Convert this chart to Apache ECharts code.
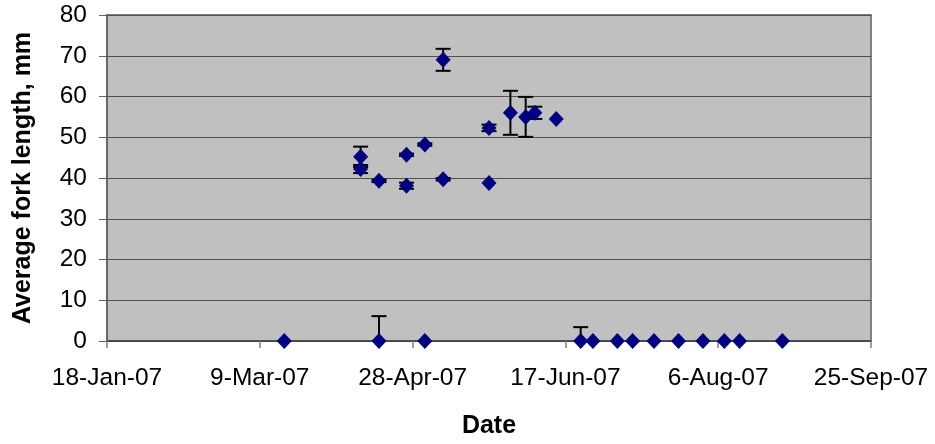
<!DOCTYPE html>
<html>
<head>
<meta charset="utf-8">
<script src="https://cdn.jsdelivr.net/npm/echarts@6/dist/echarts.min.js"></script>
<style>
  html, body { margin: 0; padding: 0; background: #fff; }
  #main { width: 935px; height: 444px; }
</style>
</head>
<body>
<div id="main"></div>
<script>
  // sampling dates, mean fork length (mm) and error bar half-width
  var dates = [
    '2007-03-17', '2007-04-11', '2007-04-11', '2007-04-17', '2007-04-17',
    '2007-04-26', '2007-04-26', '2007-05-02', '2007-05-02', '2007-05-08',
    '2007-05-08', '2007-05-23', '2007-05-23', '2007-05-30', '2007-06-04',
    '2007-06-07', '2007-06-14', '2007-06-22', '2007-06-26', '2007-07-04',
    '2007-07-09', '2007-07-16', '2007-07-24', '2007-08-01', '2007-08-08',
    '2007-08-13', '2007-08-27'
  ];
  var lengths = [
    0, 45.2, 42.2, 39.3, 0,
    45.7, 38.1, 48.2, 0, 69.0,
    39.7, 52.3, 38.8, 56.0, 55.0,
    56.0, 54.5, 0, 0, 0,
    0, 0, 0, 0, 0,
    0, 0
  ];
  var errors = [
    0, 2.5, 1.0, 0.3, 6.1,
    0.3, 0.75, 0.3, 0, 2.7,
    0.3, 0.8, 0, 5.4, 4.9,
    1.5, 0, 3.4, 0, 0,
    0, 0, 0, 0, 0,
    0, 0
  ];
  // x axis in spreadsheet day serials: 39100 = 18-Jan-07
  var xMin = 39100, xMax = 39350, xStep = 50;
  var yMin = 0, yMax = 80, yStep = 10;

  var months = ['Jan', 'Feb', 'Mar', 'Apr', 'May', 'Jun', 'Jul', 'Aug', 'Sep', 'Oct', 'Nov', 'Dec'];
  var base = Date.UTC(1899, 11, 30);

  function toSerial(s) {
    var p = s.split('-');
    return Math.round((Date.UTC(+p[0], +p[1] - 1, +p[2]) - base) / 86400000);
  }
  function serialLabel(v) {
    var d = new Date(base + v * 86400000);
    return d.getUTCDate() + '-' + months[d.getUTCMonth()] + '-' + String(d.getUTCFullYear()).slice(2);
  }

  var points = dates.map(function (d, i) { return [toSerial(d), lengths[i]]; });
  var bars = [];
  dates.forEach(function (d, i) {
    if (errors[i] > 0) bars.push([toSerial(d), lengths[i], errors[i]]);
  });

  var myChart = echarts.init(document.getElementById('main'));
  var font = 'Liberation Sans, Arial, sans-serif';

  var option = {
    animation: false,
    grid: {
      left: 107, right: 64, top: 15, bottom: 103,
      show: true,
      backgroundColor: '#C0C0C0',
      borderColor: '#808080',
      borderWidth: 2
    },
    xAxis: {
      type: 'value',
      min: xMin, max: xMax, interval: xStep,
      name: 'Date',
      nameLocation: 'middle',
      nameGap: 73,
      nameTextStyle: { fontFamily: font, fontSize: 25, fontWeight: 'bold', color: '#000' },
      axisLine: { show: true, onZero: false, lineStyle: { color: '#404040', width: 1.5 } },
      axisTick: { show: true, length: 7, lineStyle: { color: '#808080', width: 1.5 } },
      axisLabel: {
        margin: 25,
        fontFamily: font, fontSize: 24.5, color: '#000',
        formatter: serialLabel
      },
      splitLine: { show: false }
    },
    yAxis: {
      type: 'value',
      min: yMin, max: yMax, interval: yStep,
      name: 'Average fork length, mm',
      nameLocation: 'middle',
      nameGap: 71,
      nameTextStyle: { fontFamily: font, fontSize: 25, fontWeight: 'bold', color: '#000' },
      axisLine: { show: true, lineStyle: { color: '#606060', width: 1.5 } },
      axisTick: { show: true, length: 8, lineStyle: { color: '#606060', width: 1 } },
      axisLabel: { margin: 20, fontFamily: font, fontSize: 24.5, color: '#000' },
      splitLine: { show: true, lineStyle: { color: '#505050', width: 1.2 } }
    },
    series: [
      {
        type: 'custom',
        name: 'error',
        clip: true,
        z: 2,
        data: bars,
        renderItem: function (params, api) {
          var x = api.value(0), y = api.value(1), e = api.value(2);
          var top = api.coord([x, y + e]);
          var bot = api.coord([x, y - e]);
          var half = 7.5;
          var style = { stroke: '#000', lineWidth: 2 };
          return {
            type: 'group',
            children: [
              { type: 'line', shape: { x1: top[0], y1: top[1], x2: bot[0], y2: bot[1] }, style: style },
              { type: 'line', shape: { x1: top[0] - half, y1: top[1], x2: top[0] + half, y2: top[1] }, style: style },
              { type: 'line', shape: { x1: bot[0] - half, y1: bot[1], x2: bot[0] + half, y2: bot[1] }, style: style }
            ]
          };
        }
      },
      {
        type: 'scatter',
        name: 'fork length',
        z: 3,
        symbol: 'diamond',
        symbolSize: [15, 16],
        clip: false,
        itemStyle: { color: '#000080', opacity: 1 },
        data: points
      }
    ]
  };
  myChart.setOption(option);
</script>
</body>
</html>
